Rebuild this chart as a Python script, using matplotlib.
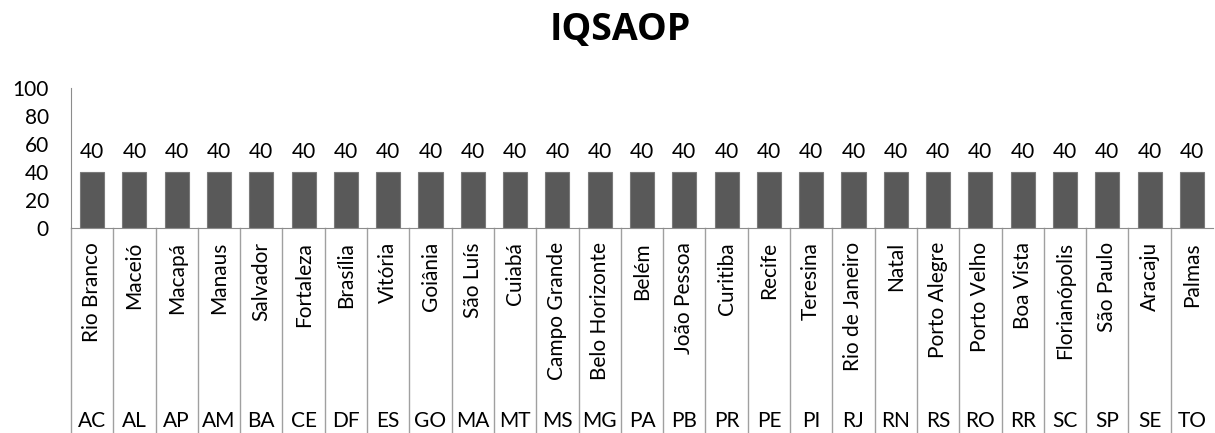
import numpy as np
import matplotlib.pyplot as plt

cidades = ["Rio Branco", "Maceió", "Macapá", "Manaus", "Salvador", "Fortaleza",
           "Brasília", "Vitória", "Goiânia", "São Luís", "Cuiabá", "Campo Grande",
           "Belo Horizonte", "Belém", "João Pessoa", "Curitiba", "Recife", "Teresina",
           "Rio de Janeiro", "Natal", "Porto Alegre", "Porto Velho", "Boa Vista",
           "Florianópolis", "São Paulo", "Aracaju", "Palmas"]
estados = ["AC", "AL", "AP", "AM", "BA", "CE", "DF", "ES", "GO", "MA", "MT", "MS",
           "MG", "PA", "PB", "PR", "PE", "PI", "RJ", "RN", "RS", "RO", "RR", "SC",
           "SP", "SE", "TO"]
iqsaop = [40] * 27
yticks = [0, 20, 40, 60, 80, 100]

plt.rcParams['font.family'] = ['Lato', 'DejaVu Sans']

W, H = 1215, 433
fig = plt.figure(figsize=(W / 100, H / 100), dpi=100)
ax_left, ax_right, ax_bottom, ax_top = 71, 1213, 228, 88
ax = fig.add_axes([ax_left / W, 1 - ax_bottom / H,
                   (ax_right - ax_left) / W, (ax_bottom - ax_top) / H])

x = np.arange(len(cidades))
ax.bar(x, iqsaop, width=0.57, color="#595959", edgecolor="#7a7a7a", linewidth=0.8)
for xi, v in zip(x, iqsaop):
    ax.text(xi, v + 7, f"{v}", ha="center", va="bottom", fontsize=15, color="#000000")

ax.set_xlim(-0.5, len(cidades) - 0.5)
ax.set_ylim(0, 100)
ax.set_yticks(yticks)
ax.set_yticklabels([str(t) for t in yticks], fontsize=15)
ax.tick_params(axis="y", length=0, pad=16)
ax.set_xticks([])
for s in ["top", "right"]:
    ax.spines[s].set_visible(False)
ax.spines["left"].set_color("#8c8c8c")
ax.spines["bottom"].set_color("#8c8c8c")

# two-level category axis: separators, city names and state codes
trans = ax.get_xaxis_transform()
ph = ax_bottom - ax_top
y_end = -(H - ax_bottom) / ph
for b in range(len(cidades)):
    ax.plot([b - 0.5, b - 0.5], [0, y_end], transform=trans, color="#a0a0a0",
            linewidth=1, clip_on=False)
for xi, c, e in zip(x, cidades, estados):
    ax.text(xi, -(242 - ax_bottom) / ph, c, transform=trans, rotation=90,
            ha="center", va="top", fontsize=15, color="#000000")
    ax.text(xi, -(421 - ax_bottom) / ph, e, transform=trans,
            ha="center", va="center", fontsize=15, color="#000000")

fig.text(620 / W, 1 - 30 / H, "IQSAOP", ha="center", va="center",
         fontsize=27, fontweight="bold", fontfamily=["Open Sans", "DejaVu Sans"])

fig.savefig("out.png", dpi=100)
